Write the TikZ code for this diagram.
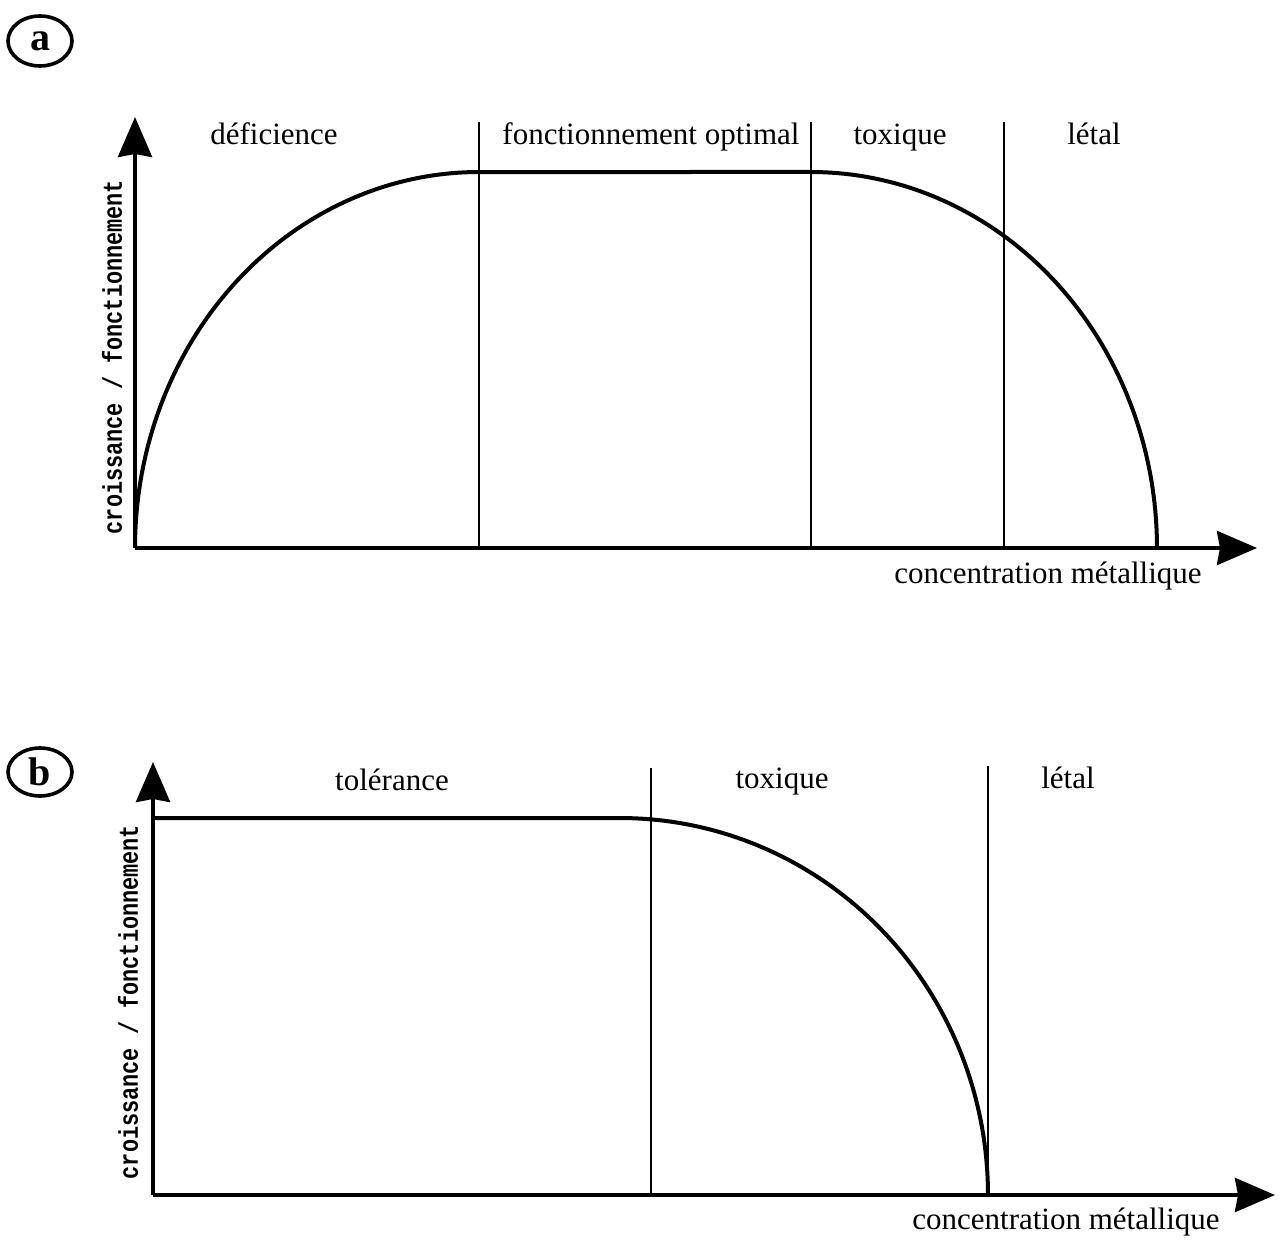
\documentclass[tikz,border=0pt]{standalone}
\usepackage{fontspec}
\setmainfont{Liberation Serif}
\newfontfamily\axisfont{Liberation Mono}
\usetikzlibrary{arrows.meta}
\newcommand{\ytitle}{\scalebox{0.81}[1]{croissance / fonctionnement}}
\begin{document}
\begin{tikzpicture}[x=0.5pt,y=-0.5pt,
  axis/.style={line width=2pt,-{Stealth[length=20pt,width=17pt,inset=1.5pt]}},
  curve/.style={line width=2pt,line join=round},
  divider/.style={line width=0.9pt},
  zone/.style={font=\fontsize{15.5}{18}\selectfont,inner sep=0pt,anchor=base},
  xlab/.style={font=\fontsize{15.5}{18}\selectfont,inner sep=0pt,anchor=base},
  ylab/.style={font=\axisfont\bfseries\fontsize{13.5}{15}\selectfont,rotate=90,inner sep=0pt},
  panel/.style={inner sep=0pt,font=\bfseries\fontsize{20}{22}\selectfont},
  panelring/.style={line width=1.8pt}
]
\useasboundingbox (0,0) rectangle (1280,1241);

% ---------- panel a ----------
\node[panel] (pa) at (40,41) {a};
\draw[panelring] (pa.center) ellipse [x radius=32,y radius=25];

\coordinate (oa) at (135,548);
\coordinate (ya) at (135,117);
\coordinate (xa) at (1257,548);
\draw[axis] (oa) -- (ya);
\draw[axis] (oa) -- (xa);

\coordinate (da1t) at (479,122); \coordinate (da1b) at (479,548);
\coordinate (da2t) at (811,122); \coordinate (da2b) at (811,548);
\coordinate (da3t) at (1004,122); \coordinate (da3b) at (1004,548);
\draw[divider] (da1t) -- (da1b);
\draw[divider] (da2t) -- (da2b);
\draw[divider] (da3t) -- (da3b);

\draw[curve] plot[domain=180:90,samples=80] ({479+344*cos(\x)},{548-376*sin(\x)})
  -- (811,172)
  -- plot[domain=90:0,samples=80] ({811+346*cos(\x)},{548-376*sin(\x)});

\node[zone] (za1) at (274,145) {déficience};
\node[zone] (za2) at (651,145) {fonctionnement optimal};
\node[zone] (za3) at (900,145) {toxique};
\node[zone] (za4) at (1094,145) {létal};
\node[xlab] (xla) at (1048,583) {concentration métallique};
\node[ylab] (yla) at (112,357) {\ytitle};

% ---------- panel b ----------
\node[panel] (pb) at (40,772) {b};
\draw[panelring] (pb.center) ellipse [x radius=32,y radius=24];

\coordinate (ob) at (153,1195);
\coordinate (yb) at (153,762);
\coordinate (xb) at (1275,1195);
\draw[axis] (ob) -- (yb);
\draw[axis] (ob) -- (xb);

\coordinate (db1t) at (651,768); \coordinate (db1b) at (651,1195);
\coordinate (db2t) at (988,766); \coordinate (db2b) at (988,1195);
\draw[divider] (db1t) -- (db1b);
\draw[divider] (db2t) -- (db2b);

\draw[curve] (153,818) -- (620,818)
  -- plot[domain=90:0,samples=80] ({620+368*cos(\x)},{1195-377*sin(\x)});

\node[zone] (zb1) at (392,790) {tolérance};
\node[zone] (zb2) at (782,788) {toxique};
\node[zone] (zb3) at (1068,788) {létal};
\node[xlab] (xlb) at (1066,1229) {concentration métallique};
\node[ylab] (ylb) at (128,1002) {\ytitle};
\end{tikzpicture}
\end{document}
